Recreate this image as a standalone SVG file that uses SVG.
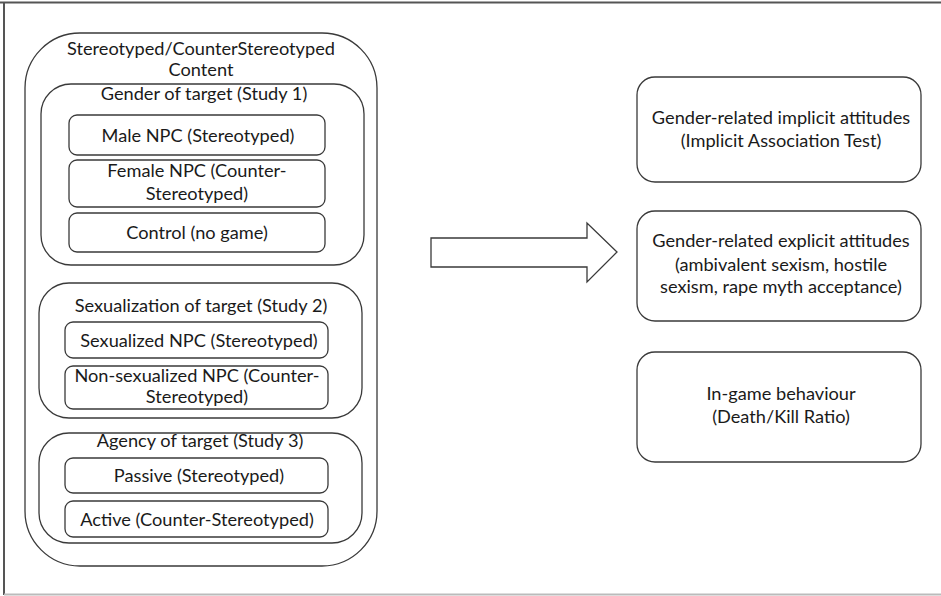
<svg xmlns="http://www.w3.org/2000/svg" width="941" height="596" viewBox="0 0 941 596">
<style>
.b{fill:#fff;stroke:#3a3a3a;stroke-width:1.3}
.t{font-family:Lato,"Liberation Sans",sans-serif;font-size:18.2px;fill:#1a1a1a;text-anchor:middle}
</style>
<rect width="941" height="596" fill="#fff"/>
<g id="frame">
<line x1="0" y1="2.5" x2="941" y2="2.5" stroke="#555" stroke-width="2"/>
<line x1="4" y1="2" x2="4" y2="595" stroke="#555" stroke-width="2"/>
<line x1="4" y1="594.5" x2="941" y2="594.5" stroke="#bbb" stroke-width="2"/>
</g>
<g id="outer">
<rect class="b" x="25" y="33" width="352" height="533" rx="55" ry="55"/>
<text class="t" x="201" y="55">Stereotyped/CounterStereotyped</text>
<text class="t" x="201" y="76">Content</text>
</g>
<g id="study1">
<rect class="b" x="41" y="84" width="323" height="181" rx="30" ry="30"/>
<text class="t" x="204" y="100">Gender of target (Study 1)</text>
</g>
<g id="male">
<rect class="b" x="69" y="115" width="256" height="40" rx="8" ry="8"/>
<text class="t" x="198" y="142">Male NPC (Stereotyped)</text>
</g>
<g id="female">
<rect class="b" x="69" y="160" width="256" height="47" rx="8" ry="8"/>
<text class="t" x="197" y="177">Female NPC (Counter-</text>
<text class="t" x="197" y="200">Stereotyped)</text>
</g>
<g id="control">
<rect class="b" x="69" y="213" width="256" height="39" rx="8" ry="8"/>
<text class="t" x="197" y="239">Control (no game)</text>
</g>
<g id="study2">
<rect class="b" x="39" y="283" width="323" height="135" rx="30" ry="30"/>
<text class="t" x="201" y="312">Sexualization of target (Study 2)</text>
</g>
<g id="sexualized">
<rect class="b" x="65" y="322" width="263" height="36" rx="8" ry="8"/>
<text class="t" x="199" y="347">Sexualized NPC (Stereotyped)</text>
</g>
<g id="nonsexualized">
<rect class="b" x="65" y="366" width="263" height="43" rx="8" ry="8"/>
<text class="t" x="197" y="382">Non-sexualized NPC (Counter-</text>
<text class="t" x="197" y="403">Stereotyped)</text>
</g>
<g id="study3">
<rect class="b" x="39" y="433" width="323" height="110" rx="30" ry="30"/>
<text class="t" x="200" y="447">Agency of target (Study 3)</text>
</g>
<g id="passive">
<rect class="b" x="65" y="458" width="263" height="35" rx="8" ry="8"/>
<text class="t" x="199" y="482">Passive (Stereotyped)</text>
</g>
<g id="active">
<rect class="b" x="65" y="501" width="263" height="36" rx="8" ry="8"/>
<text class="t" x="197" y="526">Active (Counter-Stereotyped)</text>
</g>
<g id="implicit">
<rect class="b" x="637" y="77" width="284" height="105" rx="18" ry="18"/>
<text class="t" x="781" y="124">Gender-related implicit attitudes</text>
<text class="t" x="781" y="147">(Implicit Association Test)</text>
</g>
<g id="explicit">
<rect class="b" x="637" y="211" width="284" height="110" rx="18" ry="18"/>
<text class="t" x="781" y="247">Gender-related explicit attitudes</text>
<text class="t" x="781" y="271">(ambivalent sexism, hostile</text>
<text class="t" x="781" y="293">sexism, rape myth acceptance)</text>
</g>
<g id="behaviour">
<rect class="b" x="637" y="352" width="284" height="110" rx="18" ry="18"/>
<text class="t" x="781" y="400">In-game behaviour</text>
<text class="t" x="781" y="423">(Death/Kill Ratio)</text>
</g>
<g id="connectors">
<polygon class="b" points="431,238 587,238 587,223 617,252 587,282 587,267 431,267"/>
</g>
</svg>
